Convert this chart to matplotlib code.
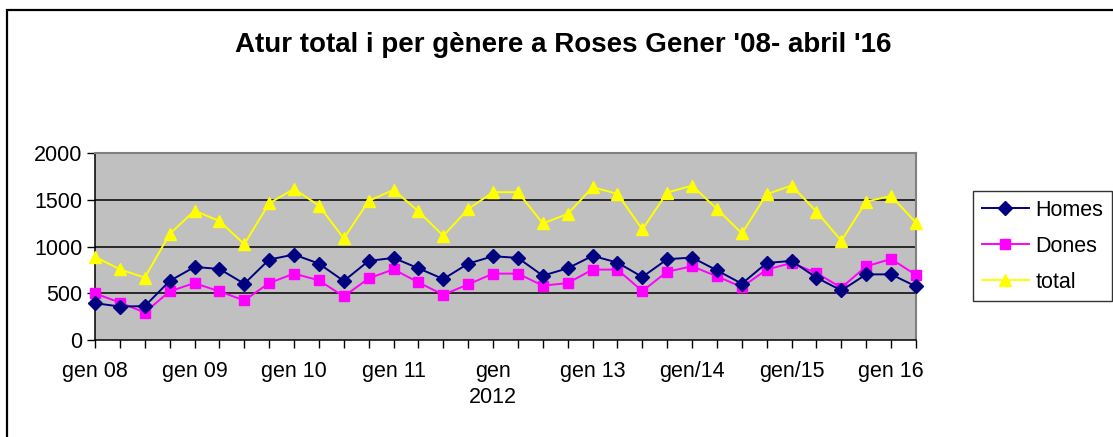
import matplotlib
matplotlib.use("Agg")
import matplotlib.pyplot as plt
from matplotlib.patches import Rectangle

plt.rcParams['font.family'] = ['Liberation Sans', 'DejaVu Sans']

title = "Atur total i per gènere a Roses Gener '08- abril '16"
homes = [394, 358, 362, 631, 781, 760, 602, 860, 914, 817,
         631, 846, 878, 767, 652, 817, 896, 878, 688, 767,
         900, 828, 674, 864, 882, 745, 602, 824, 846, 667,
         530, 702, 702, 573]
dones = [498, 401, 294, 520, 609, 520, 423, 609, 710, 638,
         466, 659, 756, 616, 484, 595, 710, 710, 581, 609,
         753, 753, 523, 731, 788, 681, 566, 753, 824, 717,
         559, 788, 867, 695]
total = [889, 756, 667, 1133, 1383, 1272, 1025, 1462, 1616, 1437,
         1086, 1487, 1606, 1376, 1115, 1401, 1581, 1581, 1247, 1348,
         1634, 1563, 1183, 1577, 1652, 1401, 1140, 1559, 1652, 1373,
         1061, 1480, 1541, 1254]
tick_labels = ["gen 08", "gen 09", "gen 10", "gen 11", "gen\n2012",
               "gen 13", "gen/14", "gen/15", "gen 16"]
yticks = [0, 500, 1000, 1500, 2000]

W, H = 1113, 437
fig = plt.figure(figsize=(W / 100, H / 100), dpi=100)
fig.patch.set_facecolor('white')

# outer chart border (left and top visible)
fig.add_artist(Rectangle((7 / W, -0.1), 1.2, 1 - 10 / H + 0.1,
                         transform=fig.transFigure, fill=False,
                         edgecolor='black', linewidth=1.6))

ax = fig.add_axes([95 / W, 1 - 340 / H, (916 - 95) / W, (340 - 153) / H])
ax.set_facecolor('#C0C0C0')
x = list(range(len(homes)))

ax.plot(x, homes, color='#000080', marker='D', markersize=7, linewidth=1.4,
        label='Homes', clip_on=False, zorder=5)
ax.plot(x, dones, color='#FF00FF', marker='s', markersize=7.5, linewidth=1.4,
        label='Dones', clip_on=False, zorder=4)
ax.plot(x, total, color='#FFFF00', marker='^', markersize=9, linewidth=1.4,
        label='total', clip_on=False, zorder=3)

fs = 15.5
ax.set_xlim(0, len(homes) - 1)
ax.set_ylim(0, 2000)
ax.set_yticks(yticks)
ax.set_yticklabels([str(v) for v in yticks], fontsize=fs)
ax.set_xticks(range(0, len(homes), 4))
ax.set_xticklabels(tick_labels, fontsize=fs, va='top', linespacing=1.35)
ax.set_xticks(x, minor=True)
ax.tick_params(axis='x', which='both', length=6, width=1, direction='out',
               pad=9, color='black')
ax.tick_params(axis='y', length=6, width=1, direction='out', pad=3)

for v in yticks[1:-1]:
    ax.axhline(v, color='black', linewidth=1.1, zorder=1)

for s in ['top', 'right']:
    ax.spines[s].set_color('#808080')
    ax.spines[s].set_linewidth(1.5)
for s in ['left', 'bottom']:
    ax.spines[s].set_color('black')
    ax.spines[s].set_linewidth(1.1)

fig.text(563 / W, 1 - 45 / H, title, ha='center', va='center',
         fontsize=20, fontweight='bold')

leg = fig.legend(loc='upper left', bbox_to_anchor=(973 / W, 1 - 191 / H),
                 fontsize=fs, frameon=True, fancybox=False, edgecolor='black',
                 borderpad=0.4, handlelength=2.2, handletextpad=0.3,
                 labelspacing=0.7, borderaxespad=0)
leg.get_frame().set_linewidth(1.0)

fig.savefig('out.png', dpi=100)
